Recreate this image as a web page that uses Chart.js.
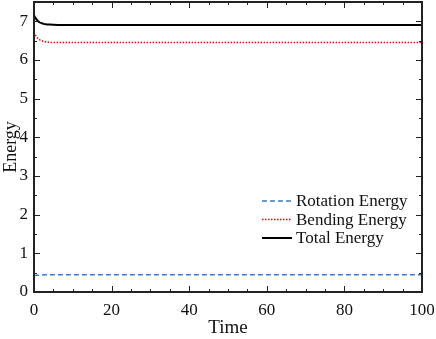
<!DOCTYPE html>
<html>
<head>
<meta charset="utf-8">
<script src="https://cdn.jsdelivr.net/npm/chart.js@4.4.1/dist/chart.umd.min.js"></script>
<style>
  html, body { margin: 0; padding: 0; background: #fff; }
  #wrap { width: 436px; height: 339px; }
</style>
</head>
<body>
<div id="wrap"><canvas id="energyChart" width="436" height="339"></canvas></div>
<script>
// time samples and energy values
const times = [0, 0.5, 1, 1.5, 2, 2.5, 3, 4, 5, 7, 10, 20, 30, 40, 50, 60, 70, 80, 90, 100];
const rotationEnergy = [0.42, 0.43, 0.43, 0.44, 0.44, 0.445, 0.445, 0.445, 0.445, 0.445, 0.445, 0.445, 0.445, 0.445, 0.445, 0.445, 0.445, 0.445, 0.445, 0.445];
const bendingEnergy = [6.72, 6.62, 6.56, 6.52, 6.5, 6.48, 6.47, 6.46, 6.45, 6.45, 6.45, 6.45, 6.45, 6.45, 6.45, 6.45, 6.45, 6.45, 6.45, 6.45];
const totalEnergy = [7.16, 7.07, 7.01, 6.97, 6.95, 6.935, 6.925, 6.915, 6.91, 6.905, 6.905, 6.905, 6.905, 6.905, 6.905, 6.905, 6.905, 6.905, 6.905, 6.905];
const xTicks = [0, 20, 40, 60, 80, 100];
const yTicks = [0, 1, 2, 3, 4, 5, 6, 7];

const serif = "'Liberation Serif', 'Times New Roman', serif";

function toPoints(vals) {
  return times.map((t, i) => ({ x: t, y: vals[i] }));
}

// box, inward ticks and in-plot legend
const framePlugin = {
  id: "frame",
  afterDraw(chart) {
    const c = chart.ctx;
    const a = chart.chartArea;
    const xs = chart.scales.x;
    const ys = chart.scales.y;
    c.save();
    c.strokeStyle = "#222";
    c.lineWidth = 1;
    for (let v = 0; v <= 100; v += 5) {
      const px = Math.round(xs.getPixelForValue(v)) + 0.5;
      const len = v % 20 === 0 ? 6 : 3;
      c.beginPath();
      c.moveTo(px, a.bottom); c.lineTo(px, a.bottom - len);
      c.moveTo(px, a.top); c.lineTo(px, a.top + len);
      c.stroke();
    }
    for (let v = 0; v <= 7.5; v += 0.5) {
      const py = Math.round(ys.getPixelForValue(v)) + 0.5;
      const len = v % 1 === 0 ? 6 : 3;
      c.beginPath();
      c.moveTo(a.left, py); c.lineTo(a.left + len, py);
      c.moveTo(a.right, py); c.lineTo(a.right - len, py);
      c.stroke();
    }
    c.lineWidth = 2;
    c.strokeRect(a.left, a.top, a.right - a.left, a.bottom - a.top);

    // legend
    const x0 = 262, x1 = 292;
    let y = 201;
    c.font = "17px " + serif;
    c.textBaseline = "middle";
    chart.data.datasets.forEach(ds => {
      c.strokeStyle = ds.borderColor;
      c.lineWidth = ds.borderWidth;
      c.setLineDash(ds.borderDash || []);
      c.beginPath();
      c.moveTo(x0, y); c.lineTo(x1, y);
      c.stroke();
      c.setLineDash([]);
      c.fillStyle = "#111";
      c.fillText(ds.label, x1 + 4, y + 1);
      y += 18.5;
    });
    c.restore();
  }
};

const ctx = document.getElementById("energyChart").getContext("2d");
const chart = new Chart(ctx, {
  type: "line",
  data: {
    datasets: [{
      label: "Rotation Energy",
      data: toPoints(rotationEnergy),
      borderColor: "#3a7cc4",
      borderWidth: 1.5,
      borderDash: [5, 3],
      pointRadius: 0,
      cubicInterpolationMode: "monotone"
    }, {
      label: "Bending Energy",
      data: toPoints(bendingEnergy),
      borderColor: "#f00000",
      borderWidth: 1.5,
      borderDash: [1.5, 1.5],
      pointRadius: 0,
      cubicInterpolationMode: "monotone"
    }, {
      label: "Total Energy",
      data: toPoints(totalEnergy),
      borderColor: "#000",
      borderWidth: 2,
      pointRadius: 0,
      cubicInterpolationMode: "monotone"
    }]
  },
  options: {
    responsive: false,
    animation: false,
    layout: { padding: { top: 2, right: 14, left: 0, bottom: 0 } },
    plugins: { legend: { display: false }, tooltip: { enabled: false } },
    scales: {
      x: {
        type: "linear",
        min: 0,
        max: 100,
        afterBuildTicks(s) { s.ticks = xTicks.map(v => ({ value: v })); },
        afterFit(s) { s.height = 47; s.paddingLeft = 0; s.paddingRight = 0; },
        grid: { display: false, drawTicks: false },
        border: { display: false },
        ticks: { color: "#111", font: { family: serif, size: 17 }, padding: 8, maxRotation: 0 },
        title: { display: true, text: "Time", color: "#111", font: { family: serif, size: 19 }, padding: { top: 0, bottom: 0 } }
      },
      y: {
        min: 0,
        max: 7.5,
        afterBuildTicks(s) { s.ticks = yTicks.map(v => ({ value: v })); },
        afterFit(s) { s.width = 34; s.paddingTop = 0; s.paddingBottom = 0; },
        grid: { display: false, drawTicks: false },
        border: { display: false },
        ticks: { color: "#111", font: { family: serif, size: 17 }, padding: 6 },
        title: { display: true, text: "Energy", color: "#111", font: { family: serif, size: 18 }, padding: 0 }
      }
    }
  },
  plugins: [framePlugin]
});
</script>
</body>
</html>
